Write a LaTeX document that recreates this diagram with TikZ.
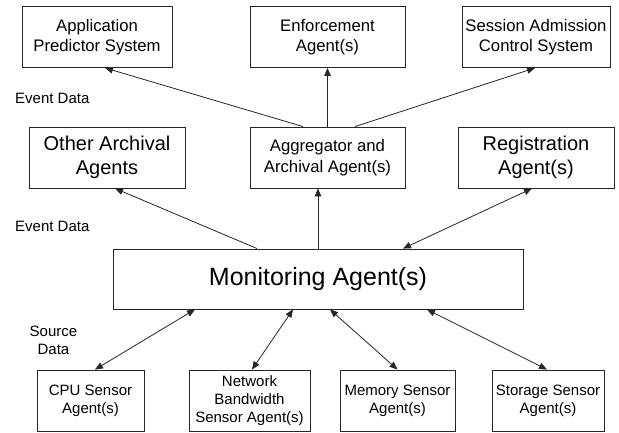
\documentclass[tikz,border=0pt]{standalone}
\usepackage{fontspec}
\setmainfont{Liberation Sans}
\usetikzlibrary{arrows.meta}

\begin{document}
\begin{tikzpicture}[x=1pt, y=-1pt,
  box/.style={draw=black!85, line width=0.9pt, fill=white, inner sep=0pt,
    align=center, text=black},
  txtS/.style={font=\fontsize{15}{18}\selectfont},
  txtM/.style={font=\fontsize{16.7}{20.5}\selectfont},
  txtL/.style={font=\fontsize{20}{24}\selectfont},
  txtXL/.style={font=\fontsize{25}{30}\selectfont},
  label/.style={font=\fontsize{15}{18}\selectfont, align=center, inner sep=0pt},
  link/.style={draw=black!85, line width=0.8pt, -{Triangle[length=8pt,width=6.5pt]}},
  both/.style={draw=black!85, line width=0.8pt,
    {Triangle[length=8pt,width=6.5pt]}-{Triangle[length=8pt,width=6.5pt]}}
]
\useasboundingbox (0,0) rectangle (619,433);
\fill[white] (0,0) rectangle (619,433);

% consumers of event data
\node[box, txtM, minimum width=150pt, minimum height=61pt] (app) at (97,37)
  {Application\\Predictor System};
\node[box, txtM, minimum width=155pt, minimum height=61pt] (enf) at (327.5,37)
  {Enforcement\\Agent(s)};
\node[box, txtM, minimum width=148pt, minimum height=61pt] (sac) at (536,37)
  {Session Admission\\Control System};

% archival and registration layer
\node[box, txtL, minimum width=156pt, minimum height=61pt] (oth) at (107,157.5)
  {Other Archival\\Agents};
\node[box, txtM, minimum width=155pt, minimum height=61pt] (agg) at (327.5,157.5)
  {Aggregator and\\Archival Agent(s)};
\node[box, txtL, minimum width=156pt, minimum height=61pt] (reg) at (536,157.5)
  {Registration\\Agent(s)};

% monitoring layer
\node[box, txtXL, minimum width=410pt, minimum height=60pt] (mon) at (318,279)
  {Monitoring Agent(s)};

% sensor agents
\node[box, txtS, minimum width=107pt, minimum height=61pt] (cpu) at (90.5,400.5)
  {CPU Sensor\\Agent(s)};
\node[box, txtS, minimum width=121pt, minimum height=61pt] (net) at (249.5,400.5)
  {Network\\Bandwidth\\Sensor Agent(s)};
\node[box, txtS, minimum width=115pt, minimum height=61pt] (mem) at (397.5,400.5)
  {Memory Sensor\\Agent(s)};
\node[box, txtS, minimum width=112pt, minimum height=61pt] (sto) at (548,400.5)
  {Storage Sensor\\Agent(s)};

% side labels
\node[label, anchor=west] (ev1) at (15,98) {Event Data};
\node[label, anchor=west] (ev2) at (15,226) {Event Data};
\node[label] (src) at (53.5,340) {Source\\Data};

% aggregator to consumers
\draw[link] ([xshift=-24.5pt]agg.north) -- ([xshift=8pt]app.south);
\draw[link] (agg.north) -- (enf.south);
\draw[link] ([xshift=27.5pt]agg.north) -- ([xshift=-1pt]sac.south);

% monitoring to archival / registration
\draw[link] ([xshift=-61pt]mon.north) -- ([xshift=8pt]oth.south);
\draw[link] (mon.north) -- ([xshift=-9.5pt]agg.south);
\draw[both] ([xshift=85pt]mon.north) -- ([xshift=-4pt]reg.south);

% sensors and monitoring
\draw[both] ([xshift=-123pt]mon.south) -- ([xshift=4.5pt]cpu.north);
\draw[both] ([xshift=-25pt]mon.south) -- ([xshift=2.5pt]net.north);
\draw[both] ([xshift=12pt]mon.south) -- (mem.north);
\draw[both] ([xshift=109pt]mon.south) -- ([xshift=-1pt]sto.north);
\end{tikzpicture}
\end{document}
